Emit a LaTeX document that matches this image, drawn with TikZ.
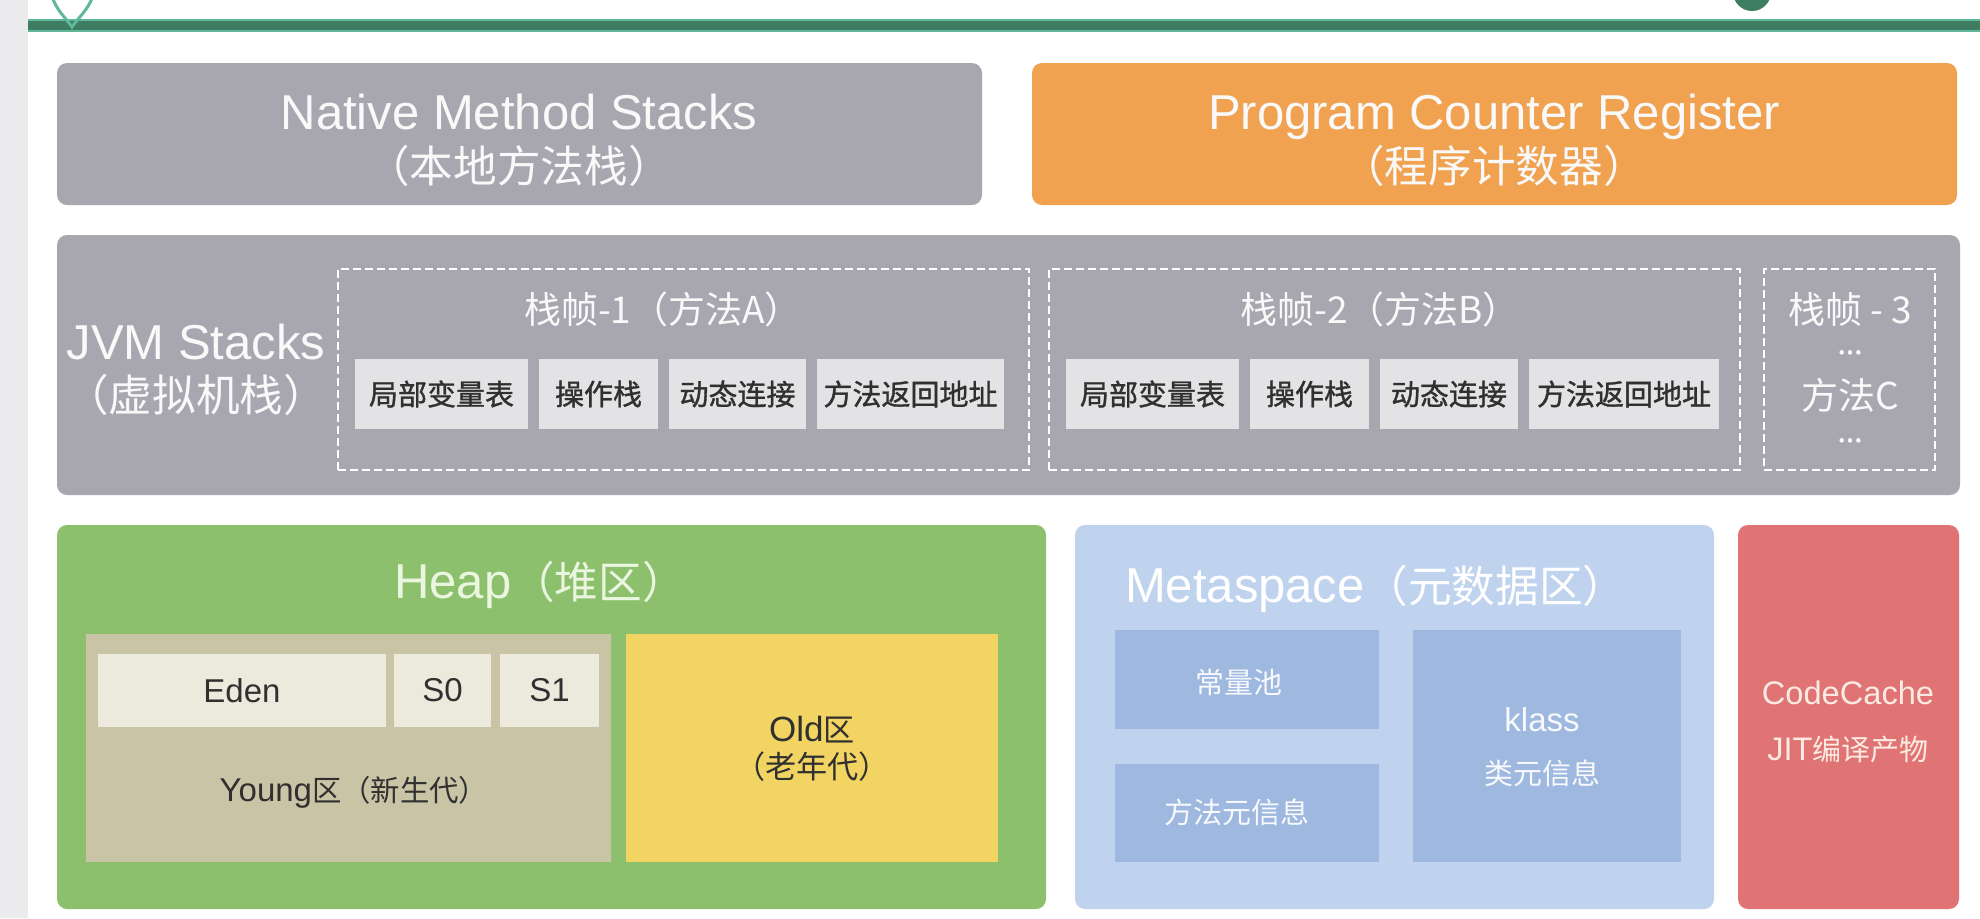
\documentclass[tikz,border=0pt]{standalone}
\usepackage{fontspec}
\setmainfont{Liberation Sans}
\newfontfamily\cjk[Scale=0.89]{Noto Sans CJK SC}
\newfontfamily\cjkf{Noto Sans CJK SC}
\newfontfamily\cjkm[FakeBold=1.2]{Noto Sans CJK SC}
\usetikzlibrary{fit}
\newcommand{\zh}[1]{{\cjk #1}}
\definecolor{hdrgreen}{HTML}{3F7D62}
\definecolor{hdrteal}{HTML}{5FB89C}
\definecolor{sidegray}{HTML}{ECECEE}
\definecolor{stackgray}{HTML}{A8A7B0}
\definecolor{pcorange}{HTML}{F0A250}
\definecolor{cellgray}{HTML}{E3E3E5}
\definecolor{celltext}{HTML}{303030}
\definecolor{heapgreen}{HTML}{8DC06D}
\definecolor{heaptext}{HTML}{EAF6E0}
\definecolor{youngkhaki}{HTML}{C9C4A6}
\definecolor{edencream}{HTML}{ECE9DD}
\definecolor{oldyellow}{HTML}{F2D462}
\definecolor{metablue}{HTML}{C0D3EE}
\definecolor{metainner}{HTML}{9EB8DF}
\definecolor{codered}{HTML}{E07474}
\definecolor{codetext}{HTML}{FBEAE2}
\tikzset{
  region/.style={inner sep=0pt, rounded corners=5pt},
  flat/.style={inner sep=0pt},
  frame/.style={draw=white, line width=1pt, dash pattern=on 4pt off 2pt, inner sep=0pt},
  bigtxt/.style={text=white!95!gray, font=\fontsize{24.5}{28}\selectfont, text height=18pt, text depth=0pt},
  frametxt/.style={text=white!95!gray, font=\cjkf\fontsize{18.5}{21}\selectfont},
  dots/.style={text=white!95!gray, font=\cjkm\fontsize{15}{17}\selectfont, inner sep=0pt, anchor=base},
  celltxt/.style={text=celltext, font=\cjkm\fontsize{14.5}{17}\selectfont},
  darktxt/.style={text=celltext, font=\fontsize{16.5}{19}\selectfont},
  metatxt/.style={text=white!92!metainner, font=\cjkf\fontsize{14.5}{17}\selectfont},
  codetxt/.style={text=codetext, font=\fontsize{16.3}{19}\selectfont},
}
\begin{document}
\begin{tikzpicture}[x=0.5pt,y=-0.5pt]
\useasboundingbox (0,0) rectangle (1980,918);
% page decoration
\fill[white] (0,0) rectangle (1980,918);
\fill[sidegray] (0,0) rectangle (28,918);
\fill[hdrteal] (28,19) rectangle (1980,32);
\fill[hdrgreen] (28,21) rectangle (1980,30);
\draw[hdrteal, line width=1.5pt] (52,-4) .. controls (56,10) and (66,18) .. (72,27) .. controls (78,18) and (88,10) .. (93,-4);
\fill[hdrgreen] (1752,-8) circle (19);
% Native Method Stacks
\node[region, fill=stackgray, fit={(57,63) (982,205)}] (native) {};
\node[bigtxt] (nativeA) at (519,111) {Native Method Stacks};
\node[bigtxt] (nativeB) at (519,164) {\zh{（本地方法栈）}};
% Program Counter Register
\node[region, fill=pcorange, fit={(1032,63) (1957,205)}] (pc) {};
\node[bigtxt] (pcA) at (1494,111) {Program Counter Register};
\node[bigtxt] (pcB) at (1494,164) {\zh{（程序计数器）}};
% JVM Stacks
\node[region, fill=stackgray, fit={(57,235) (1960,495)}] (jvm) {};
\node[bigtxt] (jvmA) at (196,341) {JVM Stacks};
\node[bigtxt] (jvmB) at (196,393) {\zh{（虚拟机栈）}};
% frame 1
\node[frame, fit={(338,269) (1029,470)}] (f1) {};
\node[frametxt] (f1t) at (663,309) {栈帧-1（方法A）};
\node[flat, fill=cellgray, fit={(355,359) (528,429)}] (f1a) {};
\node[flat, fill=cellgray, fit={(539,359) (658,429)}] (f1b) {};
\node[flat, fill=cellgray, fit={(669,359) (806,429)}] (f1c) {};
\node[flat, fill=cellgray, fit={(817,359) (1004,429)}] (f1d) {};
\node[celltxt] at (f1a) {局部变量表};
\node[celltxt] at (f1b) {操作栈};
\node[celltxt] at (f1c) {动态连接};
\node[celltxt] at (f1d) {方法返回地址};
% frame 2
\node[frame, fit={(1049,269) (1740,470)}] (f2) {};
\node[frametxt] (f2t) at (1380,309) {栈帧-2（方法B）};
\node[flat, fill=cellgray, fit={(1066,359) (1239,429)}] (f2a) {};
\node[flat, fill=cellgray, fit={(1250,359) (1369,429)}] (f2b) {};
\node[flat, fill=cellgray, fit={(1380,359) (1518,429)}] (f2c) {};
\node[flat, fill=cellgray, fit={(1529,359) (1719,429)}] (f2d) {};
\node[celltxt] at (f2a) {局部变量表};
\node[celltxt] at (f2b) {操作栈};
\node[celltxt] at (f2c) {动态连接};
\node[celltxt] at (f2d) {方法返回地址};
% frame 3
\node[frame, fit={(1764,269) (1935,470)}] (f3) {};
\node[frametxt] (f3a) at (1850,309) {栈帧 - 3};
\node[dots] (f3b) at (1850,354) {...};
\node[frametxt] (f3c) at (1850,395) {方法C};
\node[dots] (f3d) at (1850,442) {...};
% Heap
\node[region, fill=heapgreen, fit={(57,525) (1046,909)}] (heap) {};
\node[bigtxt, text=heaptext] (heapt) at (540,580) {Heap\zh{（堆区）}};
\node[flat, fill=youngkhaki, fit={(86,634) (611,862)}] (young) {};
\node[flat, fill=edencream, fit={(98,654) (386,727)}] (eden) {};
\node[flat, fill=edencream, fit={(394,654) (491,727)}] (s0) {};
\node[flat, fill=edencream, fit={(500,654) (599,727)}] (s1) {};
\node[darktxt] at (eden) {Eden};
\node[darktxt] at (s0) {S0};
\node[darktxt] at (s1) {S1};
\node[darktxt] (youngt) at (354,792) {Young\zh{区（新生代）}};
\node[flat, fill=oldyellow, fit={(626,634) (998,862)}] (old) {};
\node[darktxt, font=\fontsize{17.5}{20}\selectfont] (oldA) at (812,730) {Old\zh{区}};
\node[darktxt, font=\fontsize{17.5}{20}\selectfont] (oldB) at (812,767) {\zh{（老年代）}};
% Metaspace
\node[region, fill=metablue, fit={(1075,525) (1714,909)}] (meta) {};
\node[bigtxt, anchor=west, text=white] (metat) at (1118,584) {Metaspace\zh{（元数据区）}};
\node[flat, fill=metainner, fit={(1115,630) (1379,729)}] (pool) {};
\node[flat, fill=metainner, fit={(1115,764) (1379,862)}] (minfo) {};
\node[flat, fill=metainner, fit={(1413,630) (1681,862)}] (klass) {};
\node[metatxt] at (1239,682) {常量池};
\node[metatxt] at (1237,812) {方法元信息};
\node[metatxt, font=\fontsize{16.5}{19}\selectfont] (klassA) at (1542,720) {klass};
\node[metatxt] (klassB) at (1542,773) {类元信息};
% CodeCache
\node[region, fill=codered, fit={(1738,525) (1959,909)}] (code) {};
\node[codetxt] (codeA) at (1848,693) {CodeCache};
\node[codetxt] (codeB) at (1848,749) {JIT\zh{编译产物}};
\end{tikzpicture}
\end{document}
